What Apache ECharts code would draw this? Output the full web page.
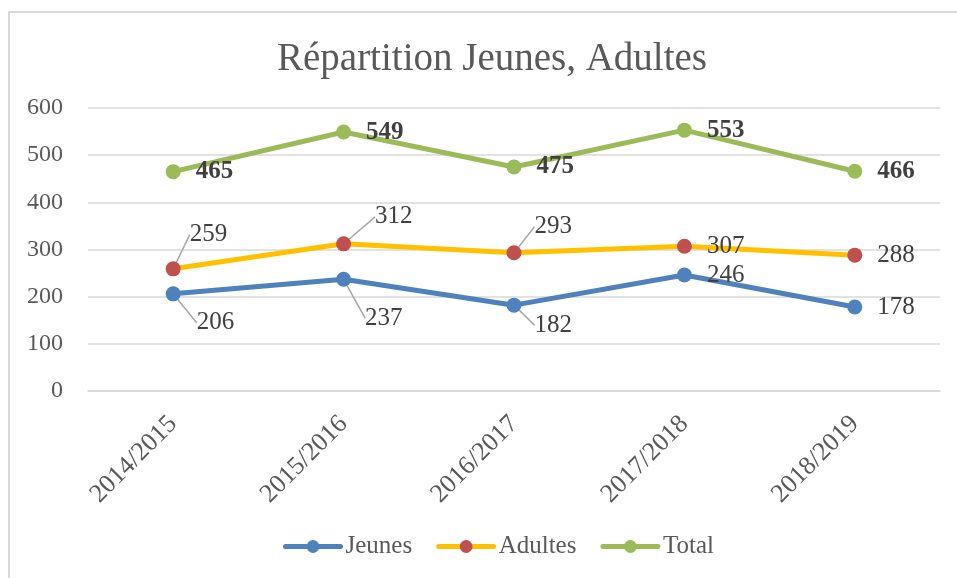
<!DOCTYPE html>
<html>
<head>
<meta charset="utf-8">
<script src="https://cdn.jsdelivr.net/npm/echarts@6/dist/echarts.min.js"></script>
<style>
  html, body { margin: 0; padding: 0; background: #fff; overflow: hidden; }
  #frame {
    position: absolute; left: 8px; top: 11px; width: 1000px; height: 600px;
    border: 2px solid #d9d9d9; box-sizing: border-box;
  }
  #chart { position: absolute; left: 0; top: 0; width: 957px; height: 578px; }
</style>
</head>
<body>
<div id="frame"></div>
<div id="chart"></div>
<script>
// données
const categories = ['2014/2015', '2015/2016', '2016/2017', '2017/2018', '2018/2019'];
const jeunes = [206, 237, 182, 246, 178];
const adultes = [259, 312, 293, 307, 288];
const total = [465, 549, 475, 553, 466];
const yTicks = [0, 100, 200, 300, 400, 500, 600];

// décalages des étiquettes (dx, dy) par point, null = pas de ligne de rappel
const jeunesShift = [[1, 29], [-1, 39], [-2, 20], null, null];
const adultesShift = [[-6, -34], [9, -27], [-2, -26], null, null];

const FONT = "'Liberation Serif', 'DejaVu Serif', serif";

const chart = echarts.init(document.getElementById('chart'));

function makeData(values, shifts) {
  return values.map((v, i) => ({
    value: v,
    labelLine: { show: !!shifts[i] }
  }));
}

function makeLayout(shifts) {
  return function (params) {
    const s = shifts[params.dataIndex];
    return s ? { dx: s[0], dy: s[1] } : {};
  };
}

const labelBase = {
  show: true,
  position: 'right',
  distance: 15,
  color: '#404040',
  fontFamily: FONT,
  fontSize: 25
};

const leader = { show: true, lineStyle: { color: '#a6a6a6', width: 1.5 } };

const option = {
  animation: false,
  title: {
    text: 'Répartition Jeunes, Adultes',
    left: 272,
    top: 35,
    textStyle: { fontFamily: FONT, fontSize: 39, fontWeight: 'normal', color: '#595959' }
  },
  legend: {
    bottom: 14,
    left: 278,
    itemWidth: 55,
    itemHeight: 16,
    itemGap: 24,
    lineStyle: { width: 5, cap: 'round' },
    textStyle: { fontFamily: FONT, fontSize: 25, color: '#595959' },
    data: ['Jeunes', 'Adultes', 'Total']
  },
  grid: { left: 88, right: 17, top: 108, bottom: 187, containLabel: false },
  xAxis: {
    type: 'category',
    data: categories,
    boundaryGap: true,
    axisLine: { lineStyle: { color: '#d9d9d9', width: 1.5 } },
    axisTick: { show: false },
    axisLabel: {
      rotate: 45, margin: 29, fontFamily: FONT, fontSize: 26, color: '#595959'
    }
  },
  yAxis: {
    type: 'value',
    min: yTicks[0],
    max: yTicks[yTicks.length - 1],
    interval: 100,
    axisLine: { show: false },
    axisTick: { show: false },
    splitLine: { lineStyle: { color: '#d9d9d9', width: 1.5 } },
    axisLabel: { margin: 25, fontFamily: FONT, fontSize: 24, color: '#595959' }
  },
  series: [
    {
      name: 'Jeunes',
      type: 'line',
      data: makeData(jeunes, jeunesShift),
      symbol: 'circle',
      symbolSize: 15,
      lineStyle: { color: '#4f81bd', width: 5 },
      itemStyle: { color: '#4f81bd' },
      label: labelBase,
      labelLine: leader,
      labelLayout: makeLayout(jeunesShift)
    },
    {
      name: 'Adultes',
      type: 'line',
      data: makeData(adultes, adultesShift),
      symbol: 'circle',
      symbolSize: 15,
      lineStyle: { color: '#ffc000', width: 5 },
      itemStyle: { color: '#c0504d' },
      label: labelBase,
      labelLine: leader,
      labelLayout: makeLayout(adultesShift)
    },
    {
      name: 'Total',
      type: 'line',
      data: total,
      symbol: 'circle',
      symbolSize: 15,
      lineStyle: { color: '#9bbb59', width: 5 },
      itemStyle: { color: '#9bbb59' },
      label: Object.assign({}, labelBase, { fontWeight: 'bold' })
    }
  ]
};

chart.setOption(option);
window.addEventListener('resize', () => chart.resize());
</script>
</body>
</html>
